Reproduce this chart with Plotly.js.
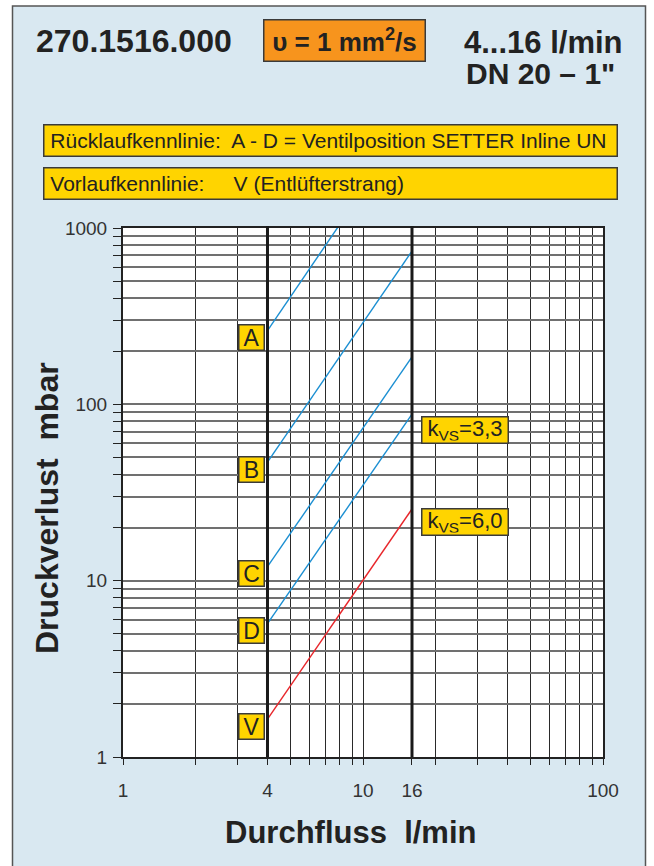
<!DOCTYPE html>
<html>
<head>
<meta charset="utf-8">
<script src="https://cdn.plot.ly/plotly-3.0.1.min.js"></script>
<style>html,body{margin:0;padding:0;background:#fff;}#chart{width:654px;height:866px;}</style>
</head>
<body>
<div id="chart"></div>
<script>
// ---- data ----
const flow = [4, 16];                 // l/min, operating range
const curveA = [262, 4190];           // mbar at 4 and 16 l/min
const curveB = [47, 740];
const curveC = [12.0, 186];
const curveD = [5.7, 88];
const curveV = [1.64, 25.5];
const curveNames = ['A', 'B', 'C', 'D', 'V'];
const kvsTexts = ['k<sub>VS</sub>=3,3', 'k<sub>VS</sub>=6,0'];
const xLabelVals = [1, 4, 10, 16, 100];
const xLabelText = ['1', '4', '10', '16', '100'];
const xGridVals = [2,3,5,6,7,8,9,20,30,40,50,60,70,80,90];
const yLabelVals = [1, 10, 100, 1000];
const yLabelText = ['1', '10', '100', '1000'];
const yGridVals = [2,3,4,5,6,7,8,9,20,30,40,50,60,70,80,90,200,300,400,500,600,700,800,900];
const articleNo = '270.1516.000';
const viscosity = '\u03C5 = 1 mm<sup>2</sup>/s';
const rangeText = '4...16 l/min';
const sizeText = 'DN 20 \u2013 1"';
const legend1 = 'R\u00fccklaufkennlinie:\u00a0 A - D = Ventilposition SETTER Inline UN';
const legend2 = 'Vorlaufkennlinie:\u00a0\u00a0\u00a0\u00a0\u00a0V (Entl\u00fcfterstrang)';
const xTitle = 'Durchfluss\u00a0\u00a0l/min';
const yTitle = 'Druckverlust\u00a0\u00a0mbar';

// ---- layout helpers ----
const L = 123, R = 603, T = 228, B = 757;
const W = R - L, H = B - T;
const px = (x) => (x - L) / W;
const py = (y) => (B - y) / H;

const BLUE = '#1b8fd2', RED = '#e8262b';
const YELLOW = '#ffd400', ORANGE = '#f7941d', EDGE = '#3a3a3a', TXT = '#222';
const SANS = 'Liberation Sans, Arial, sans-serif';

const allCurves = [curveA, curveB, curveC, curveD, curveV];
const traces = allCurves.map((c, i) => ({
  x: flow, y: c, type: 'scatter', mode: 'lines',
  line: {color: curveNames[i] === 'V' ? RED : BLUE, width: 1.4},
  hoverinfo: 'skip', showlegend: false
}));

const annotations = [];
allCurves.forEach((c, i) => {
  annotations.push({
    xref: 'x', yref: 'y', x: Math.log10(flow[0]), y: Math.log10(c[0]),
    xanchor: 'right', yanchor: 'middle', xshift: -2, yshift: -7,
    text: curveNames[i], showarrow: false,
    font: {family: SANS, size: 23, color: TXT},
    bgcolor: YELLOW, bordercolor: EDGE, borderwidth: 1.5, borderpad: 1,
    width: 22, height: 22
  });
});
[[curveD, kvsTexts[0], -16], [curveV, kvsTexts[1], -13]].forEach(([c, t, ys]) => {
  annotations.push({
    xref: 'x', yref: 'y', x: Math.log10(flow[1]), y: Math.log10(c[1]),
    xanchor: 'left', yanchor: 'middle', xshift: 9, yshift: ys,
    text: t, showarrow: false,
    font: {family: SANS, size: 22, color: TXT},
    bgcolor: YELLOW, bordercolor: EDGE, borderwidth: 1.5, borderpad: 2,
    width: 81, height: 21
  });
});
annotations.push(
  {xref:'paper', yref:'paper', x: px(34), y: py(41), xanchor:'left', yanchor:'middle', showarrow:false,
   text: '<b>' + articleNo + '</b>', font:{family: SANS, size: 32, color: TXT}},
  {xref:'paper', yref:'paper', x: px(344.5), y: py(40.5), xanchor:'center', yanchor:'middle', showarrow:false,
   text: '<b>' + viscosity + '</b>', font:{family: SANS, size: 26, color: TXT},
   bgcolor: ORANGE, bordercolor: EDGE, borderwidth: 1.5, borderpad: 0, width: 160, height: 40},
  {xref:'paper', yref:'paper', x: px(625), y: py(42), xanchor:'right', yanchor:'middle', showarrow:false,
   text: '<b>' + rangeText + '</b>', font:{family: SANS, size: 31, color: TXT}},
  {xref:'paper', yref:'paper', x: px(617), y: py(73), xanchor:'right', yanchor:'middle', showarrow:false,
   text: '<b>' + sizeText + '</b>', font:{family: SANS, size: 30, color: TXT}},
  {xref:'paper', yref:'paper', x: px(330.5), y: py(140.5), xanchor:'center', yanchor:'middle', showarrow:false,
   text: '\u00a0' + legend1, align: 'left', font:{family: SANS, size: 21, color: TXT},
   bgcolor: YELLOW, bordercolor: EDGE, borderwidth: 1.5, borderpad: 0, width: 572, height: 30},
  {xref:'paper', yref:'paper', x: px(330.5), y: py(183.5), xanchor:'center', yanchor:'middle', showarrow:false,
   text: '\u00a0' + legend2, align: 'left', font:{family: SANS, size: 21, color: TXT},
   bgcolor: YELLOW, bordercolor: EDGE, borderwidth: 1.5, borderpad: 0, width: 572, height: 30},
  {xref:'paper', yref:'paper', x: px(350), y: py(832), xanchor:'center', yanchor:'middle', showarrow:false,
   text: '<b>' + xTitle + '</b>', font:{family: SANS, size: 31, color: TXT}},
  {xref:'paper', yref:'paper', x: px(47), y: py(508), xanchor:'center', yanchor:'middle', showarrow:false,
   textangle: -90, text: '<b>' + yTitle + '</b>', font:{family: SANS, size: 32, color: TXT}}
);

const shapes = [
  {type:'rect', xref:'paper', yref:'paper', layer:'below',
   x0: px(12.5), x1: px(645.5), y0: py(900), y1: py(6),
   fillcolor:'#d9e8f1', line:{color:'#555', width:1.5}},
  {type:'rect', xref:'paper', yref:'paper', layer:'below',
   x0: 0, x1: 1, y0: 0, y1: 1, fillcolor:'#ffffff', line:{width:0}},
  ...flow.map(q => ({type:'line', xref:'x', yref:'paper', x0: q, x1: q, y0: 0, y1: 1.004,
   line:{color:'#1a1a1a', width:3}}))
];

const axisCommon = {
  type: 'log', showgrid: true,
  tickmode: 'array', ticks: 'outside', tickcolor: '#222', tickwidth: 1,
  showline: true, linecolor: '#222', linewidth: 2, mirror: true,
  zeroline: false, fixedrange: true,
  tickfont: {family: SANS, size: 19, color: '#333'}
};

const layout = {
  width: 654, height: 866,
  margin: {l: L, r: 654 - R, t: T, b: 866 - B, pad: 0},
  paper_bgcolor: '#ffffff', plot_bgcolor: 'rgba(0,0,0,0)',
  showlegend: false,
  xaxis: Object.assign({}, axisCommon, {
    range: [0, 2], tickvals: xLabelVals, ticktext: xLabelText,
    ticklen: 6, ticklabelstandoff: 9, gridcolor: '#2a2a2a', gridwidth: 1,
    minor: {tickmode: 'array', tickvals: xGridVals, ticks: 'outside', ticklen: 6,
            tickcolor: '#222', tickwidth: 1, showgrid: true, gridcolor: '#2a2a2a', gridwidth: 1}
  }),
  yaxis: Object.assign({}, axisCommon, {
    range: [0, 3], tickvals: yLabelVals, ticktext: yLabelText,
    ticklen: 8, ticklabelstandoff: 2, gridcolor: '#707070', gridwidth: 2,
    minor: {tickmode: 'array', tickvals: yGridVals, ticks: 'outside', ticklen: 8,
            tickcolor: '#222', tickwidth: 1, showgrid: true, gridcolor: '#707070', gridwidth: 2}
  }),
  annotations: annotations,
  shapes: shapes
};

Plotly.newPlot('chart', traces, layout, {displayModeBar: false});
</script>
</body>
</html>
